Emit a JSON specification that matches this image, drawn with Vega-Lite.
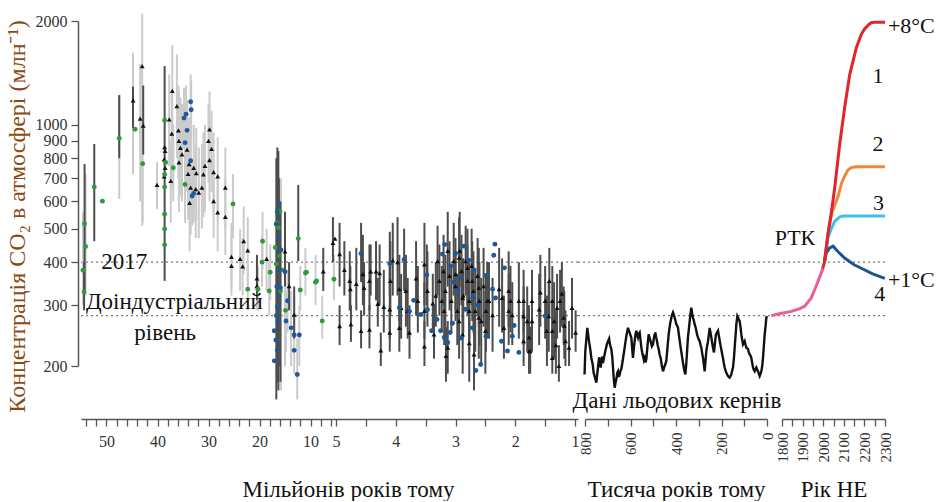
{
 "$schema": "https://vega.github.io/schema/vega-lite/v6.json",
 "background": "white",
 "padding": {"left": 5, "top": 12, "right": 0, "bottom": 0},
 "config": {"view": {"stroke": null}, "font": "Liberation Serif", "axis": {"grid": false}},
 "datasets": {
  "proxy": [
   {"t":54.6,"v":379,"lo":300,"hi":560,"k":"g"},{"t":54.3,"v":517,"dlo":330,"dhi":770,"k":"g"},{"t":54.1,"v":444,"lo":320,"hi":720,"k":"g"},{"t":54.4,"v":328,"dlo":290,"dhi":400,"k":"g"},
   {"t":52.4,"v":661,"dlo":460,"dhi":880,"k":"g"},{"t":50.8,"v":601,"k":"g"},{"t":47.5,"v":914,"lo":610,"hi":1220,"dlo":800,"dhi":1220,"k":"g"},
   {"t":44.8,"v":1178,"lo":720,"hi":1620,"dlo":980,"dhi":1290,"k":"t"},{"t":44.4,"v":971,"k":"g"},{"t":43.4,"v":1042,"lo":600,"hi":1500,"k":"t"},{"t":43.0,"v":1481,"lo":510,"hi":2100,"k":"t"},
   {"t":42.8,"v":995,"dlo":820,"dhi":1300,"k":"t"},{"t":42.9,"v":772,"lo":520,"hi":1100,"k":"g"},{"t":40.1,"v":670,"lo":570,"hi":780,"k":"t"},
   {"t":38.6,"v":1031,"dlo":353,"dhi":1480,"k":"g"},{"t":38.6,"v":862,"k":"t"},{"t":38.5,"v":840,"k":"t"},{"t":38.7,"v":794,"k":"t"},{"t":38.4,"v":778,"k":"g"},{"t":38.5,"v":751,"k":"t"},
   {"t":38.6,"v":718,"k":"g"},{"t":38.7,"v":709,"k":"t"},{"t":38.6,"v":661,"k":"g"},{"t":38.6,"v":551,"k":"g"},{"t":38.6,"v":499,"k":"g"},{"t":38.6,"v":449,"k":"g"},
   {"t":36.9,"v":751,"lo":600,"hi":1000,"k":"g"},{"t":37.1,"v":1254,"lo":900,"hi":1700,"k":"t"},{"t":36.2,"v":1134,"lo":800,"hi":1600,"k":"t"},{"t":37.7,"v":1037,"lo":760,"hi":1400,"k":"t"},
   {"t":37.2,"v":943,"lo":650,"hi":1250,"k":"t"},{"t":35.9,"v":964,"lo":700,"hi":1300,"k":"t"},{"t":35.8,"v":898,"lo":640,"hi":1250,"k":"t"},{"t":35.5,"v":858,"lo":620,"hi":1200,"k":"t"},
   {"t":35.2,"v":821,"lo":600,"hi":1150,"k":"t"},{"t":35.8,"v":778,"lo":560,"hi":1050,"k":"t"},{"t":34.2,"v":848,"lo":640,"hi":1150,"k":"t"},{"t":33.8,"v":769,"lo":560,"hi":1050,"k":"t"},
   {"t":32.9,"v":751,"lo":560,"hi":1000,"k":"t"},{"t":32.4,"v":725,"lo":530,"hi":980,"k":"t"},{"t":34.0,"v":721,"lo":530,"hi":950,"k":"t"},{"t":37.4,"v":688,"lo":520,"hi":900,"k":"t"},
   {"t":33.5,"v":658,"lo":480,"hi":900,"k":"t"},{"t":32.5,"v":651,"lo":470,"hi":880,"k":"t"},{"t":31.9,"v":636,"lo":470,"hi":860,"k":"t"},{"t":31.3,"v":658,"lo":500,"hi":880,"k":"t"},
   {"t":33.7,"v":594,"lo":430,"hi":800,"k":"t"},{"t":30.7,"v":760,"lo":560,"hi":1000,"k":"t"},{"t":34.6,"v":672,"lo":520,"hi":850,"k":"g"},
   {"t":33.5,"v":1167,"lo":950,"hi":1400,"k":"b"},{"t":33.4,"v":1106,"lo":900,"hi":1350,"k":"b"},{"t":34.4,"v":1074,"lo":880,"hi":1300,"k":"b"},{"t":34.8,"v":1046,"lo":850,"hi":1280,"k":"b"},
   {"t":34.2,"v":964,"lo":780,"hi":1180,"k":"b"},{"t":34.6,"v":888,"lo":720,"hi":1100,"k":"b"},{"t":33.5,"v":787,"lo":640,"hi":960,"k":"b"},{"t":32.9,"v":633,"lo":520,"hi":780,"k":"b"},{"t":33.2,"v":622,"lo":510,"hi":760,"k":"b"},
   {"t":29.8,"v":970,"lo":720,"hi":1250,"k":"t"},{"t":30.0,"v":898,"lo":680,"hi":1150,"k":"t"},{"t":29.4,"v":852,"lo":640,"hi":1100,"k":"t"},{"t":29.8,"v":790,"lo":600,"hi":1050,"k":"t"},
   {"t":29.0,"v":730,"lo":560,"hi":950,"k":"t"},{"t":28.2,"v":709,"lo":540,"hi":920,"k":"t"},{"t":31.0,"v":718,"lo":540,"hi":950,"k":"t"},{"t":29.0,"v":601,"lo":470,"hi":780,"k":"t"},
   {"t":28.2,"v":558,"lo":430,"hi":720,"k":"t"},{"t":26.7,"v":658,"lo":500,"hi":860,"k":"t"},{"t":26.7,"v":541,"lo":420,"hi":700,"k":"t"},{"t":25.2,"v":590,"lo":470,"hi":720,"k":"g"},
   {"t":23.1,"v":460,"lo":370,"hi":580,"k":"t"},{"t":22.3,"v":433,"lo":350,"hi":540,"k":"t"},{"t":25.5,"v":414,"lo":340,"hi":520,"k":"t"},{"t":25.5,"v":390,"lo":320,"hi":480,"k":"t"},
   {"t":23.8,"v":409,"lo":330,"hi":500,"k":"t"},{"t":23.3,"v":389,"lo":320,"hi":470,"k":"t"},{"t":18.6,"v":409,"lo":330,"hi":500,"k":"t"},{"t":20.5,"v":359,"dlo":310,"dhi":420,"k":"t"},
   {"t":20.5,"v":341,"lo":290,"hi":400,"k":"t"},{"t":15.0,"v":430,"dlo":340,"dhi":560,"k":"t"},{"t":14.2,"v":341,"dlo":290,"dhi":400,"k":"t"},{"t":13.2,"v":282,"dlo":240,"dhi":340,"k":"t"},
   {"t":7.5,"v":376,"dlo":330,"dhi":440,"k":"t"},
   {"t":19.4,"v":460,"lo":380,"hi":560,"k":"g"},{"t":19.5,"v":400,"lo":340,"hi":480,"k":"g"},{"t":17.9,"v":374,"lo":310,"hi":450,"k":"g"},{"t":18.1,"v":330,"lo":280,"hi":400,"k":"g"},
   {"t":22.3,"v":334,"lo":290,"hi":390,"k":"g"},{"t":20.3,"v":334,"lo":290,"hi":390,"k":"g"},{"t":12.4,"v":468,"dlo":403,"dhi":670,"k":"g"},{"t":12.0,"v":332,"lo":290,"hi":390,"k":"g"},
   {"t":11.0,"v":372,"lo":320,"hi":440,"k":"g"},{"t":9.0,"v":350,"lo":300,"hi":420,"k":"g"},{"t":7.7,"v":270,"lo":240,"hi":320,"k":"g"},{"t":16.0,"v":561,"k":"g"},{"t":16.6,"v":520,"k":"g"},
   {"t":16.3,"v":504,"k":"g"},{"t":16.9,"v":441,"k":"g"},{"t":16.1,"v":417,"k":"g"},{"t":15.6,"v":380,"k":"g"},{"t":16.7,"v":395,"k":"g"},{"t":14.9,"v":290,"k":"g"},{"t":15.9,"v":330,"k":"g"},
   {"t":16.3,"v":594,"dlo":170,"dhi":840,"k":"b"},{"t":16.5,"v":560,"dlo":180,"dhi":860,"k":"b"},{"t":16.7,"v":515,"dlo":160,"dhi":800,"k":"b"},{"t":16.2,"v":471,"dlo":200,"dhi":700,"k":"b"},
   {"t":15.8,"v":434,"lo":170,"hi":700,"k":"b"},{"t":15.0,"v":375,"lo":200,"hi":560,"k":"b"},{"t":15.9,"v":337,"dlo":180,"dhi":600,"k":"b"},{"t":16.2,"v":317,"k":"b"},{"t":16.5,"v":297,"k":"b"},
   {"t":16.7,"v":280,"k":"b"},{"t":17.1,"v":253,"k":"b"},{"t":16.8,"v":238,"k":"b"},{"t":16.5,"v":222,"k":"b"},{"t":17.1,"v":207,"k":"b"},{"t":16.4,"v":270,"k":"b"},{"t":16.6,"v":340,"k":"b"},
   {"t":16.1,"v":380,"k":"b"},{"t":14.8,"v":270,"lo":220,"hi":330,"k":"b"},{"t":13.8,"v":258,"lo":200,"hi":330,"k":"b"},{"t":13.2,"v":246,"lo":190,"hi":320,"k":"b"},{"t":13.2,"v":222,"k":"b"},
   {"t":12.2,"v":246,"lo":200,"hi":300,"k":"b"},{"t":12.6,"v":189,"lo":160,"hi":240,"k":"b"},{"t":14.5,"v":309,"lo":250,"hi":380,"k":"b"},
   {"t":5.6,"v":455,"dlo":400,"dhi":540,"k":"t"},{"t":5.4,"v":357,"lo":310,"hi":420,"k":"g"},{"t":5.2,"v":468,"k":"t"},{"t":10.8,"v":374,"k":"g"},{"t":8.8,"v":353,"k":"g"},
   {"t":4.94,"v":422,"dlo":340,"dhi":520,"k":"t"},{"t":4.86,"v":380,"dlo":320,"dhi":460,"k":"t"},{"t":4.77,"v":353,"dlo":290,"dhi":430,"k":"t"},{"t":4.76,"v":334,"dlo":290,"dhi":390,"k":"t"},
   {"t":4.66,"v":346,"dlo":290,"dhi":440,"k":"t"},{"t":4.55,"v":369,"dlo":300,"dhi":480,"k":"t"},{"t":4.53,"v":337,"dlo":280,"dhi":400,"k":"t"},{"t":4.44,"v":353,"dlo":290,"dhi":450,"k":"t"},
   {"t":4.42,"v":376,"dlo":320,"dhi":450,"k":"t"},{"t":4.33,"v":376,"dlo":310,"dhi":460,"k":"t"},{"t":4.27,"v":372,"dlo":300,"dhi":450,"k":"t"},{"t":4.30,"v":303,"dlo":260,"dhi":360,"k":"t"},
   {"t":4.2,"v":297,"dlo":250,"dhi":380,"k":"t"},{"t":4.1,"v":292,"dlo":240,"dhi":390,"k":"t"},{"t":4.94,"v":261,"dlo":230,"dhi":300,"k":"t"},{"t":4.75,"v":264,"dlo":235,"dhi":300,"k":"t"},
   {"t":4.58,"v":253,"dlo":225,"dhi":290,"k":"t"},{"t":4.44,"v":255,"dlo":225,"dhi":300,"k":"t"},{"t":4.25,"v":222,"dlo":200,"dhi":250,"k":"t"},{"t":4.1,"v":250,"dlo":220,"dhi":300,"k":"t"},
   {"t":4.09,"v":353,"dlo":280,"dhi":460,"k":"t"},{"t":4.05,"v":405,"dlo":320,"dhi":520,"k":"t"},{"t":3.97,"v":400,"dlo":320,"dhi":540,"k":"t"},{"t":3.94,"v":334,"dlo":270,"dhi":420,"k":"t"},
   {"t":3.91,"v":295,"dlo":240,"dhi":370,"k":"t"},{"t":3.94,"v":258,"dlo":220,"dhi":320,"k":"t"},{"t":3.83,"v":330,"dlo":260,"dhi":420,"k":"t"},{"t":3.8,"v":289,"dlo":240,"dhi":360,"k":"t"},
   {"t":3.77,"v":250,"dlo":210,"dhi":300,"k":"t"},{"t":3.66,"v":359,"dlo":280,"dhi":460,"k":"t"},{"t":3.63,"v":309,"dlo":250,"dhi":390,"k":"t"},{"t":3.52,"v":394,"dlo":300,"dhi":520,"k":"t"},
   {"t":3.52,"v":289,"dlo":240,"dhi":350,"k":"t"},{"t":3.52,"v":228,"dlo":200,"dhi":270,"k":"t"},{"t":3.47,"v":330,"dlo":260,"dhi":430,"k":"t"},{"t":3.38,"v":304,"dlo":250,"dhi":370,"k":"t"},
   {"t":3.36,"v":247,"dlo":210,"dhi":300,"k":"t"},{"t":3.33,"v":320,"dlo":260,"dhi":400,"k":"t"},{"t":3.19,"v":289,"dlo":230,"dhi":380,"k":"t"},{"t":3.16,"v":214,"dlo":180,"dhi":260,"k":"t"},
   {"t":3.13,"v":226,"dlo":190,"dhi":270,"k":"t"},
   {"t":3.3,"v":403,"dlo":320,"dhi":510,"k":"t"},{"t":3.27,"v":353,"dlo":280,"dhi":450,"k":"t"},{"t":3.23,"v":309,"dlo":250,"dhi":390,"k":"t"},{"t":3.2,"v":377,"dlo":300,"dhi":480,"k":"t"},
   {"t":3.17,"v":330,"dlo":260,"dhi":420,"k":"t"},{"t":3.13,"v":431,"dlo":340,"dhi":560,"k":"t"},{"t":3.1,"v":365,"dlo":290,"dhi":460,"k":"t"},{"t":3.07,"v":309,"dlo":250,"dhi":390,"k":"t"},
   {"t":3.03,"v":403,"dlo":320,"dhi":520,"k":"t"},{"t":3.0,"v":341,"dlo":270,"dhi":430,"k":"t"},{"t":2.97,"v":289,"dlo":230,"dhi":370,"k":"t"},{"t":2.93,"v":431,"dlo":340,"dhi":560,"k":"t"},
   {"t":2.9,"v":377,"dlo":300,"dhi":480,"k":"t"},{"t":2.87,"v":320,"dlo":250,"dhi":410,"k":"t"},{"t":2.83,"v":403,"dlo":320,"dhi":510,"k":"t"},{"t":2.8,"v":353,"dlo":280,"dhi":450,"k":"t"},
   {"t":2.77,"v":309,"dlo":240,"dhi":400,"k":"t"},{"t":2.73,"v":390,"dlo":300,"dhi":500,"k":"t"},{"t":2.7,"v":330,"dlo":250,"dhi":430,"k":"t"},{"t":2.67,"v":289,"dlo":220,"dhi":380,"k":"t"},
   {"t":2.63,"v":365,"dlo":280,"dhi":470,"k":"t"},{"t":2.6,"v":309,"dlo":230,"dhi":400,"k":"t"},{"t":2.57,"v":270,"dlo":200,"dhi":360,"k":"t"},{"t":2.53,"v":341,"dlo":260,"dhi":440,"k":"t"},
   {"t":2.5,"v":253,"dlo":190,"dhi":330,"k":"t"},{"t":2.47,"v":309,"dlo":240,"dhi":400,"k":"t"},
   {"t":2.94,"v":412,"dlo":320,"dhi":540,"k":"t"},{"t":2.8,"v":385,"dlo":300,"dhi":500,"k":"t"},{"t":2.72,"v":353,"dlo":270,"dhi":460,"k":"t"},{"t":2.61,"v":337,"dlo":260,"dhi":440,"k":"t"},
   {"t":2.44,"v":309,"dlo":240,"dhi":400,"k":"t"},{"t":2.27,"v":334,"dlo":260,"dhi":440,"k":"t"},{"t":2.22,"v":315,"dlo":250,"dhi":410,"k":"t"},{"t":2.11,"v":330,"dlo":260,"dhi":430,"k":"t"},
   {"t":2.08,"v":309,"dlo":250,"dhi":390,"k":"t"},{"t":1.94,"v":309,"dlo":240,"dhi":400,"k":"t"},{"t":1.86,"v":309,"dlo":250,"dhi":380,"k":"t"},{"t":1.8,"v":270,"dlo":220,"dhi":340,"k":"t"},
   {"t":1.72,"v":309,"dlo":250,"dhi":380,"k":"t"},{"t":1.72,"v":270,"dlo":220,"dhi":330,"k":"t"},{"t":1.77,"v":242,"dlo":200,"dhi":300,"k":"t"},{"t":1.75,"v":221,"dlo":190,"dhi":260,"k":"t"},
   {"t":1.6,"v":292,"dlo":230,"dhi":370,"k":"t"},{"t":1.58,"v":327,"dlo":260,"dhi":420,"k":"t"},{"t":1.44,"v":279,"dlo":220,"dhi":350,"k":"t"},{"t":1.38,"v":309,"dlo":240,"dhi":390,"k":"t"},
   {"t":1.38,"v":253,"dlo":210,"dhi":310,"k":"t"},{"t":1.38,"v":211,"dlo":190,"dhi":240,"k":"t"},{"t":1.3,"v":295,"dlo":240,"dhi":370,"k":"t"},{"t":1.27,"v":200,"dlo":180,"dhi":230,"k":"t"},
   {"t":1.22,"v":324,"dlo":260,"dhi":400,"k":"t"},{"t":1.19,"v":276,"dlo":230,"dhi":340,"k":"t"},{"t":1.16,"v":236,"dlo":200,"dhi":290,"k":"t"},{"t":1.1,"v":226,"dlo":200,"dhi":270,"k":"t"},
   {"t":1.05,"v":295,"dlo":240,"dhi":360,"k":"t"},{"t":0.99,"v":250,"dlo":220,"dhi":290,"k":"t"},{"t":2.38,"v":281,"dlo":220,"dhi":360,"k":"t"},{"t":2.61,"v":276,"dlo":210,"dhi":360,"k":"t"},
   {"t":2.77,"v":289,"dlo":220,"dhi":380,"k":"t"},{"t":2.94,"v":270,"dlo":210,"dhi":350,"k":"t"},{"t":2.88,"v":247,"dlo":190,"dhi":320,"k":"t"},{"t":2.77,"v":233,"dlo":180,"dhi":300,"k":"t"},
   {"t":2.69,"v":216,"dlo":170,"dhi":290,"k":"t"},{"t":2.49,"v":289,"dlo":220,"dhi":370,"k":"t"},{"t":3.0,"v":369,"dlo":290,"dhi":470,"k":"t"},{"t":2.88,"v":315,"dlo":240,"dhi":410,"k":"t"},
   {"t":2.11,"v":289,"dlo":230,"dhi":370,"k":"t"},{"t":2.19,"v":258,"dlo":210,"dhi":320,"k":"t"},{"t":1.86,"v":236,"dlo":200,"dhi":290,"k":"t"},{"t":1.77,"v":221,"dlo":190,"dhi":270,"k":"t"},
   {"t":1.86,"v":279,"dlo":230,"dhi":340,"k":"t"},{"t":2.05,"v":281,"dlo":230,"dhi":350,"k":"t"},{"t":1.5,"v":309,"dlo":240,"dhi":390,"k":"t"},{"t":1.47,"v":253,"dlo":200,"dhi":320,"k":"t"},
   {"t":1.43,"v":353,"dlo":280,"dhi":440,"k":"t"},{"t":1.35,"v":270,"dlo":210,"dhi":350,"k":"t"},{"t":1.32,"v":230,"dlo":190,"dhi":290,"k":"t"},{"t":1.25,"v":309,"dlo":250,"dhi":380,"k":"t"},
   {"t":1.18,"v":262,"dlo":210,"dhi":330,"k":"t"},
   {"t":4.58,"v":424,"dlo":350,"dhi":520,"k":"b"},{"t":4.1,"v":396,"dlo":320,"dhi":490,"k":"b"},{"t":3.86,"v":407,"dlo":330,"dhi":500,"k":"b"},{"t":3.48,"v":367,"dlo":300,"dhi":450,"k":"b"},
   {"t":3.94,"v":295,"k":"b"},{"t":3.77,"v":288,"k":"b"},{"t":3.7,"v":310,"k":"b"},{"t":3.58,"v":282,"k":"b"},{"t":3.47,"v":291,"k":"b"},{"t":3.31,"v":273,"k":"b"},{"t":3.4,"v":253,"k":"b"},
   {"t":3.25,"v":253,"k":"b"},{"t":3.19,"v":242,"k":"b"},{"t":3.13,"v":234,"k":"b"},{"t":3.09,"v":250,"k":"b"},{"t":3.05,"v":266,"k":"b"},{"t":3.18,"v":450,"k":"b"},{"t":3.22,"v":422,"k":"b"},
   {"t":2.86,"v":445,"k":"b"},{"t":3.0,"v":424,"k":"b"},{"t":2.34,"v":451,"k":"b"},{"t":2.36,"v":419,"k":"b"},{"t":2.18,"v":385,"k":"b"},{"t":2.49,"v":366,"k":"b"},{"t":2.38,"v":334,"k":"b"},
   {"t":2.33,"v":315,"k":"b"},{"t":2.71,"v":315,"k":"b"},{"t":2.91,"v":241,"k":"b"},{"t":2.49,"v":244,"k":"b"},{"t":2.58,"v":202,"k":"b"},{"t":2.66,"v":194,"k":"b"},{"t":2.13,"v":221,"k":"b"},
   {"t":2.02,"v":262,"k":"b"},{"t":2.05,"v":244,"k":"b"},{"t":1.94,"v":219,"k":"b"},{"t":2.23,"v":236,"k":"b"},{"t":2.72,"v":258,"k":"b"},{"t":3.08,"v":390,"k":"b"},{"t":3.03,"v":350,"k":"b"},
   {"t":2.96,"v":330,"k":"b"},{"t":2.92,"v":362,"k":"b"},{"t":2.84,"v":292,"k":"b"},{"t":2.78,"v":405,"k":"b"},{"t":2.69,"v":380,"k":"b"},{"t":2.63,"v":300,"k":"b"},{"t":1.5,"v":279,"k":"b"}
  ],
  "ice": [
   {"ka":802,"v":189},{"ka":798.6,"v":221},{"ka":789.8,"v":258},{"ka":786,"v":246},{"ka":782.4,"v":236},{"ka":777,"v":224},{"ka":772.2,"v":211},{"ka":766,"v":202},{"ka":761.9,"v":191},{"ka":756,"v":185},{"ka":750.2,"v":179},{"ka":746,"v":190},{"ka":742.9,"v":198},{"ka":738,"v":212},{"ka":735.6,"v":209},
   {"ka":731,"v":198},{"ka":728.2,"v":205},{"ka":724,"v":213},{"ka":720.9,"v":204},{"ka":715,"v":214},{"ka":710.6,"v":221},{"ka":704,"v":231},{"ka":698.9,"v":236},{"ka":694,"v":240},{"ka":691.6,"v":233},{"ka":688,"v":228},{"ka":684.3,"v":224},{"ka":680,"v":212},{"ka":677,"v":198},{"ka":673,"v":182},{"ka":669.6,"v":173},{"ka":665,"v":180},{"ka":662.3,"v":183},
   {"ka":658,"v":191},{"ka":655,"v":193},{"ka":651,"v":186},{"ka":647.6,"v":189},{"ka":644,"v":194},{"ka":640.3,"v":196},{"ka":633,"v":210},{"ka":625.7,"v":226},{"ka":618,"v":245},{"ka":611,"v":258},{"ka":607,"v":253},{"ka":603.7,"v":250},{"ka":600,"v":245},{"ka":596.3,"v":242},{"ka":592,"v":222},{"ka":589,"v":211},{"ka":585,"v":226},{"ka":581.7,"v":236},
   {"ka":578,"v":247},{"ka":574.4,"v":253},{"ka":570,"v":246},{"ka":567,"v":242},{"ka":563,"v":248},{"ka":559.7,"v":250},{"ka":556,"v":238},{"ka":552.4,"v":226},{"ka":548,"v":218},{"ka":545.1,"v":214},{"ka":541,"v":208},{"ka":537.7,"v":211},{"ka":534,"v":205},{"ka":530.4,"v":209},{"ka":525,"v":230},{"ka":520.2,"v":247},{"ka":515,"v":240},{"ka":511.4,"v":236},
   {"ka":506,"v":228},{"ka":501.1,"v":231},{"ka":496,"v":244},{"ka":490.9,"v":250},{"ka":487,"v":242},{"ka":483.5,"v":236},{"ka":480,"v":229},{"ka":476.2,"v":224},{"ka":472,"v":216},{"ka":467.4,"v":211},{"ka":462,"v":200},{"ka":457.1,"v":193},{"ka":453,"v":197},{"ka":449.8,"v":200},{"ka":446,"v":203},{"ka":442.5,"v":207},{"ka":437,"v":228},{"ka":432.2,"v":247},
   {"ka":426,"v":265},{"ka":420.5,"v":276},{"ka":417,"v":282},{"ka":413.2,"v":286},{"ka":409,"v":281},{"ka":405.9,"v":276},{"ka":402,"v":270},{"ka":398.5,"v":264},{"ka":395,"v":262},{"ka":391.2,"v":258},{"ka":385,"v":240},{"ka":379.5,"v":226},{"ka":374,"v":214},{"ka":369.2,"v":204},{"ka":364,"v":195},{"ka":359,"v":189},{"ka":356,"v":198},{"ka":353.1,"v":211},
   {"ka":350,"v":228},{"ka":347.3,"v":242},{"ka":343,"v":258},{"ka":339.9,"v":270},{"ka":336,"v":284},{"ka":332.6,"v":295},{"ka":329,"v":284},{"ka":325.3,"v":276},{"ka":321,"v":270},{"ka":317.9,"v":264},{"ka":314,"v":259},{"ka":310.6,"v":253},{"ka":307,"v":246},{"ka":303.3,"v":242},{"ka":299,"v":238},{"ka":296,"v":236},{"ka":292,"v":230},{"ka":288.6,"v":226},
   {"ka":285,"v":218},{"ka":281.3,"v":211},{"ka":277,"v":201},{"ka":274,"v":193},{"ka":270,"v":208},{"ka":266.7,"v":221},{"ka":263,"v":229},{"ka":259.3,"v":236},{"ka":255,"v":248},{"ka":252,"v":258},{"ka":248,"v":249},{"ka":244.7,"v":242},{"ka":241,"v":233},{"ka":237.4,"v":226},{"ka":233,"v":219},{"ka":228,"v":236},{"ka":224.2,"v":247},
   {"ka":220,"v":250},{"ka":215.4,"v":253},{"ka":210,"v":241},{"ka":205.1,"v":231},{"ka":199,"v":220},{"ka":193.4,"v":211},{"ka":190,"v":204},{"ka":186.1,"v":198},{"ka":182,"v":194},{"ka":178.7,"v":191},{"ka":175,"v":189},{"ka":171.4,"v":187},{"ka":168,"v":186},{"ka":164.1,"v":185},{"ka":160,"v":187},{"ka":156.8,"v":189},{"ka":153,"v":194},{"ka":149.4,"v":198},
   {"ka":145,"v":212},{"ka":142.1,"v":226},{"ka":138,"v":246},{"ka":134.8,"v":264},{"ka":130.4,"v":279},{"ka":127,"v":276},{"ka":124.5,"v":273},{"ka":120.1,"v":270},{"ka":116,"v":258},{"ka":112.8,"v":247},{"ka":109,"v":238},{"ka":105.5,"v":231},{"ka":101,"v":234},{"ka":98.1,"v":236},{"ka":94,"v":230},{"ka":90.8,"v":226},{"ka":87,"v":225},{"ka":83.5,"v":224},
   {"ka":80,"v":219},{"ka":76.2,"v":216},{"ka":72,"v":214},{"ka":68.8,"v":211},{"ka":65,"v":204},{"ka":61.5,"v":198},{"ka":58,"v":195},{"ka":54.2,"v":193},{"ka":50,"v":196},{"ka":46.9,"v":198},{"ka":43,"v":195},{"ka":39.5,"v":193},{"ka":36,"v":190},{"ka":32.2,"v":187},{"ka":28,"v":190},{"ka":24.9,"v":193},
   {"ka":21,"v":200},{"ka":17.6,"v":211},{"ka":14,"v":228},{"ka":10.2,"v":247},{"ka":6,"v":262},{"ka":2.9,"v":276},{"ka":0,"v":279}
  ],
  "rcp": [
   {"yr":1748,"v":280,"s":"p"},{"yr":1781,"v":283,"s":"p"},{"yr":1845,"v":288,"s":"p"},{"yr":1878,"v":292,"s":"p"},{"yr":1910,"v":298,"s":"p"},{"yr":1942,"v":315,"s":"p"},{"yr":1966,"v":341,"s":"p"},{"yr":1985,"v":365,"s":"p"},{"yr":1999,"v":384,"s":"p"},
   {"yr":1995,"v":378,"s":"1"},{"yr":2006,"v":400,"s":"1"},{"yr":2023,"v":482,"s":"1"},{"yr":2040,"v":560,"s":"1"},{"yr":2056,"v":658,"s":"1"},{"yr":2080,"v":877,"s":"1"},{"yr":2104,"v":1121,"s":"1"},{"yr":2129,"v":1401,"s":"1"},{"yr":2161,"v":1673,"s":"1"},{"yr":2185,"v":1830,"s":"1"},{"yr":2201,"v":1896,"s":"1"},{"yr":2220,"v":1950,"s":"1"},{"yr":2233,"v":1977,"s":"1"},{"yr":2250,"v":1985,"s":"1"},{"yr":2300,"v":1985,"s":"1"},
   {"yr":2006,"v":400,"s":"2"},{"yr":2023,"v":482,"s":"2"},{"yr":2035,"v":530,"s":"2"},{"yr":2044,"v":560,"s":"2"},{"yr":2072,"v":620,"s":"2"},{"yr":2090,"v":680,"s":"2"},{"yr":2104,"v":710,"s":"2"},{"yr":2120,"v":740,"s":"2"},{"yr":2136,"v":752,"s":"2"},{"yr":2160,"v":756,"s":"2"},{"yr":2300,"v":756,"s":"2"},
   {"yr":2006,"v":400,"s":"3"},{"yr":2023,"v":470,"s":"3"},{"yr":2039,"v":500,"s":"3"},{"yr":2056,"v":525,"s":"3"},{"yr":2080,"v":541,"s":"3"},{"yr":2100,"v":544,"s":"3"},{"yr":2300,"v":544,"s":"3"},
   {"yr":2006,"v":400,"s":"4"},{"yr":2015,"v":425,"s":"4"},{"yr":2031,"v":440,"s":"4"},{"yr":2048,"v":445,"s":"4"},{"yr":2070,"v":430,"s":"4"},{"yr":2104,"v":411,"s":"4"},{"yr":2150,"v":393,"s":"4"},{"yr":2185,"v":384,"s":"4"},{"yr":2240,"v":370,"s":"4"},{"yr":2299,"v":359,"s":"4"}
  ]
 },
 "bounds": "flush",
 "spacing": 7,
 "hconcat": [
  {
   "width": 497, "height": 345,
   "layer": [
    {"data": {"values": [{"y": 400}, {"y": 280}]}, "mark": {"type": "rule", "strokeDash": [2, 3], "color": "#777", "strokeWidth": 1.3},
     "encoding": {"y": {"field": "y", "type": "quantitative", "scale": {"type": "log", "domain": [200, 2000], "nice": false}}}},
    {"data": {"name": "proxy"}, "transform": [{"filter": "isValid(datum.lo)"}], "mark": {"type": "rule", "color": "#cbcbcb", "strokeWidth": 2},
     "encoding": {
      "x": {"field": "t", "type": "quantitative", "scale": {"domain": [55, 5, 0.95], "range": [0, 255, 497], "nice": false, "zero": false},
            "axis": {"values": [54,52,50,48,46,44,42,40,38,36,34,32,30,28,26,24,22,20,18,16,14,12,10,8,6,5,4.5,4,3.5,3,2.5,2,1.5,1],
                     "tickCount": 200, "format": "~g",
                     "labelExpr": "indexof([50,40,30,20,10,5,4,3,2,1], datum.value) >= 0 ? datum.label : ''",
                     "labelOverlap": false, "labelFlush": false, "labelFont": "Liberation Serif", "labelColor": "#333",
                     "domainColor": "#555", "tickColor": "#555", "domainWidth": 1.5, "tickWidth": 1.3,
                     "offset": 53, "tickSize": 7, "labelPadding": 7, "labelFontSize": 16,
                     "title": "Мільйонів років тому", "titleFont": "Liberation Serif", "titleFontWeight": "normal", "titleColor": "#111",
                     "titleFontSize": 23, "titleX": 267, "titleY": 59, "titleBaseline": "top"}},
      "y": {"field": "lo", "type": "quantitative", "scale": {"type": "log", "domain": [200, 2000], "nice": false},
            "axis": {"values": [200,300,400,500,600,700,800,900,1000,2000], "tickCount": 100, "format": "d", "offset": 3, "tickSize": 7, "labelPadding": 4, "labelFontSize": 16,
                     "labelOverlap": false, "labelFont": "Liberation Serif", "labelColor": "#333",
                     "domainColor": "#555", "tickColor": "#555", "domainWidth": 1.5, "tickWidth": 1.3,
                     "title": "Концентрація CO₂ в атмосфері (млн⁻¹)", "titleFont": "Liberation Serif", "titleFontWeight": "normal",
                     "titleFontSize": 24, "titleColor": "#8a4a12", "titlePadding": 6, "titleY": 195}},
      "y2": {"field": "hi"}}},
    {"data": {"name": "proxy"}, "transform": [{"filter": "isValid(datum.dlo)"}], "mark": {"type": "rule", "color": "#4d4d4d", "strokeWidth": 2},
     "encoding": {
      "x": {"field": "t", "type": "quantitative", "scale": {"domain": [55, 5, 0.95], "range": [0, 255, 497], "nice": false, "zero": false}},
      "y": {"field": "dlo", "type": "quantitative", "scale": {"type": "log", "domain": [200, 2000], "nice": false}},
      "y2": {"field": "dhi"}}},
    {"data": {"name": "proxy"}, "mark": {"type": "point", "filled": true, "opacity": 1, "size": 24},
     "encoding": {
      "x": {"field": "t", "type": "quantitative", "scale": {"domain": [55, 5, 0.95], "range": [0, 255, 497], "nice": false, "zero": false}},
      "y": {"field": "v", "type": "quantitative", "scale": {"type": "log", "domain": [200, 2000], "nice": false}},
      "shape": {"field": "k", "type": "nominal", "scale": {"domain": ["t", "g", "b"], "range": ["triangle-up", "circle", "circle"]}, "legend": null},
      "color": {"field": "k", "type": "nominal", "scale": {"domain": ["t", "g", "b"], "range": ["#111111", "#2e9a3e", "#1e5a98"]}, "legend": null},
      "order": {"field": "k", "sort": "descending"}}},
    {"data": {"values": [{"t": 46.5, "v": 400, "s": "2017"}, {"t": 36.7, "v": 307, "s": "Доіндустріальний"}, {"t": 38.5, "v": 250, "s": "рівень"}]},
     "mark": {"type": "text", "font": "Liberation Serif", "fontSize": 23, "color": "#111"},
     "encoding": {
      "x": {"field": "t", "type": "quantitative", "scale": {"domain": [55, 5, 0.95], "range": [0, 255, 497], "nice": false, "zero": false}},
      "y": {"field": "v", "type": "quantitative", "scale": {"type": "log", "domain": [200, 2000], "nice": false}},
      "text": {"field": "s"}}}
   ]
  },
  {
   "bounds": "flush",
   "spacing": 15,
   "hconcat": [
    {
     "width": 182, "height": 345,
     "layer": [
      {"data": {"values": [{"y": 400}, {"y": 280}]}, "mark": {"type": "rule", "strokeDash": [2, 3], "color": "#777", "strokeWidth": 1.3},
       "encoding": {
        "x": {"datum": 831, "type": "quantitative", "scale": {"domain": [800, 0], "nice": false, "zero": false},
              "axis": {"values": [800,700,600,500,400,300,200,100,0], "tickCount": 100, "labelExpr": "datum.value % 200 == 0 ? datum.label : ''", "labelAngle": 270,
                       "labelOverlap": false, "labelFlush": false, "labelFont": "Liberation Serif", "labelColor": "#333",
                       "domainColor": "#555", "tickColor": "#555", "domainWidth": 1.5, "tickWidth": 1.3,
                       "offset": 53, "tickSize": 7, "labelPadding": 6, "labelFontSize": 15,
                       "title": "Тисяча років тому", "titleFont": "Liberation Serif", "titleFontWeight": "normal", "titleColor": "#111",
                       "titleFontSize": 23, "titleY": 59, "titleBaseline": "top"}},
        "x2": {"datum": -66},
        "y": {"field": "y", "type": "quantitative", "scale": {"type": "log", "domain": [200, 2000], "nice": false}, "axis": null}}},
      {"data": {"name": "ice"}, "mark": {"type": "line", "color": "#111", "strokeWidth": 2.4},
       "encoding": {
        "x": {"field": "ka", "type": "quantitative", "scale": {"domain": [800, 0], "nice": false, "zero": false}},
        "y": {"field": "v", "type": "quantitative", "scale": {"type": "log", "domain": [200, 2000], "nice": false}}}},
      {"data": {"values": [{"ka": 396, "v": 158, "s": "Дані льодових кернів"}]},
       "mark": {"type": "text", "font": "Liberation Serif", "fontSize": 23, "color": "#111"},
       "encoding": {
        "x": {"field": "ka", "type": "quantitative", "scale": {"domain": [800, 0], "nice": false, "zero": false}},
        "y": {"field": "v", "type": "quantitative", "scale": {"type": "log", "domain": [200, 2000], "nice": false}},
        "text": {"field": "s"}}}
     ]
    },
    {
     "width": 103, "height": 345,
     "layer": [
      {"data": {"values": [{"y": 400}, {"y": 280}]}, "mark": {"type": "rule", "strokeDash": [2, 3], "color": "#777", "strokeWidth": 1.3},
       "encoding": {"y": {"field": "y", "type": "quantitative", "scale": {"type": "log", "domain": [200, 2000], "nice": false}, "axis": null}}},
      {"data": {"name": "rcp"}, "transform": [{"filter": "datum.s == '2'"}], "mark": {"type": "line", "color": "#f0883a", "strokeWidth": 3},
       "encoding": {
        "x": {"field": "yr", "type": "quantitative", "scale": {"domain": [1800, 2300], "nice": false, "zero": false},
              "axis": {"values": [1800,1850,1900,1950,2000,2050,2100,2150,2200,2250,2300], "tickCount": 100, "format": "d", "labelExpr": "datum.value % 100 == 0 ? datum.label : ''", "labelAngle": 270,
                       "labelOverlap": false, "labelFlush": false, "labelFont": "Liberation Serif", "labelColor": "#333",
                       "domainColor": "#555", "tickColor": "#555", "domainWidth": 1.5, "tickWidth": 1.3,
                       "offset": 53, "tickSize": 7, "labelPadding": 6, "labelFontSize": 15,
                       "title": "Рік НЕ", "titleFont": "Liberation Serif", "titleFontWeight": "normal", "titleColor": "#111",
                       "titleFontSize": 23, "titleY": 59, "titleBaseline": "top"}},
        "y": {"field": "v", "type": "quantitative", "scale": {"type": "log", "domain": [200, 2000], "nice": false}}}},
      {"data": {"name": "rcp"}, "transform": [{"filter": "datum.s == '3'"}], "mark": {"type": "line", "color": "#3cc0ee", "strokeWidth": 3},
       "encoding": {
        "x": {"field": "yr", "type": "quantitative", "scale": {"domain": [1800, 2300], "nice": false, "zero": false}},
        "y": {"field": "v", "type": "quantitative", "scale": {"type": "log", "domain": [200, 2000], "nice": false}}}},
      {"data": {"name": "rcp"}, "transform": [{"filter": "datum.s == '4'"}], "mark": {"type": "line", "color": "#1c5592", "strokeWidth": 3},
       "encoding": {
        "x": {"field": "yr", "type": "quantitative", "scale": {"domain": [1800, 2300], "nice": false, "zero": false}},
        "y": {"field": "v", "type": "quantitative", "scale": {"type": "log", "domain": [200, 2000], "nice": false}}}},
      {"data": {"name": "rcp"}, "transform": [{"filter": "datum.s == '1'"}], "mark": {"type": "line", "color": "#e0252c", "strokeWidth": 3},
       "encoding": {
        "x": {"field": "yr", "type": "quantitative", "scale": {"domain": [1800, 2300], "nice": false, "zero": false}},
        "y": {"field": "v", "type": "quantitative", "scale": {"type": "log", "domain": [200, 2000], "nice": false}}}},
      {"data": {"name": "rcp"}, "transform": [{"filter": "datum.s == 'p'"}], "mark": {"type": "line", "color": "#e8609a", "strokeWidth": 3},
       "encoding": {
        "x": {"field": "yr", "type": "quantitative", "scale": {"domain": [1800, 2300], "nice": false, "zero": false}},
        "y": {"field": "v", "type": "quantitative", "scale": {"type": "log", "domain": [200, 2000], "nice": false}}}},
      {"data": {"values": [{"yr": 2266, "v": 1386, "s": "1"}, {"yr": 2266, "v": 878, "s": "2"}, {"yr": 2268, "v": 595, "s": "3"}, {"yr": 2275, "v": 323, "s": "4"}, {"yr": 1863, "v": 470, "s": "РТК"}]},
       "mark": {"type": "text", "font": "Liberation Serif", "fontSize": 22, "color": "#111"},
       "encoding": {
        "x": {"field": "yr", "type": "quantitative", "scale": {"domain": [1800, 2300], "nice": false, "zero": false}},
        "y": {"field": "v", "type": "quantitative", "scale": {"type": "log", "domain": [200, 2000], "nice": false}},
        "text": {"field": "s"}}},
      {"data": {"values": [{"yr": 2314, "v": 1930, "s": "+8°C"}, {"yr": 2314, "v": 356, "s": "+1°C"}]},
       "mark": {"type": "text", "font": "Liberation Serif", "fontSize": 22, "color": "#111", "align": "left"},
       "encoding": {
        "x": {"field": "yr", "type": "quantitative", "scale": {"domain": [1800, 2300], "nice": false, "zero": false}},
        "y": {"field": "v", "type": "quantitative", "scale": {"type": "log", "domain": [200, 2000], "nice": false}},
        "text": {"field": "s"}}}
     ]
    }
   ]
  }
 ]
}
